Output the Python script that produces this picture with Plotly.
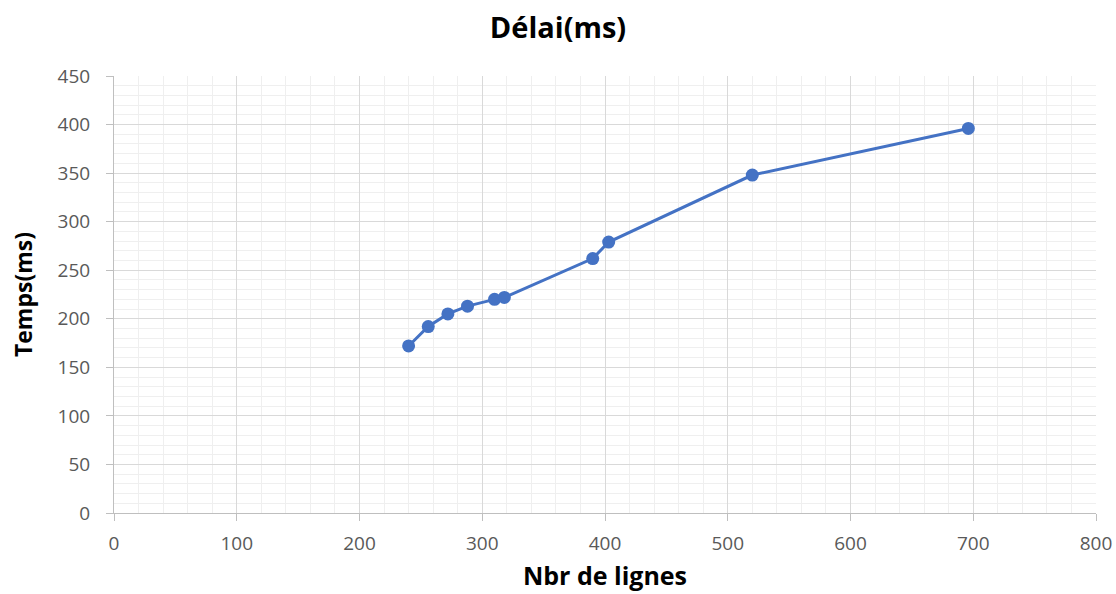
import plotly.graph_objects as go

# Measurements: number of lines vs. delay
nbr_lignes = [240, 256, 272, 288, 310, 318, 390, 403, 520, 696]
temps_ms = [172, 192, 205, 213, 220, 222, 262, 279, 348, 396]

x_ticks = [0, 100, 200, 300, 400, 500, 600, 700, 800]
y_ticks = [0, 50, 100, 150, 200, 250, 300, 350, 400, 450]

blue = "#4472C4"
font_family = "Open Sans, Noto Sans, sans-serif"

fig = go.Figure(
    go.Scatter(
        x=nbr_lignes,
        y=temps_ms,
        mode="lines+markers",
        line=dict(color=blue, width=3),
        marker=dict(color=blue, size=13),
        showlegend=False,
    )
)

axis_common = dict(
    automargin=False,
    showgrid=True,
    gridcolor="#d9d9d9",
    gridwidth=1,
    zeroline=False,
    showline=True,
    linecolor="#bfbfbf",
    linewidth=1,
    ticks="outside",
    ticklen=7,
    tickcolor="#bfbfbf",
    tickfont=dict(family=font_family, size=19, color="#595959"),
)

fig.update_xaxes(
    **axis_common,
    range=[0, 800],
    tickvals=x_ticks,
    ticklabelstandoff=6,
    minor=dict(dtick=20, showgrid=True, gridcolor="#efefef", gridwidth=1, ticks=""),
    title=dict(
        text="<b>Nbr de lignes</b>",
        font=dict(family=font_family, size=25, color="#000000"),
        standoff=12,
    ),
)
fig.update_yaxes(
    **axis_common,
    range=[0, 450],
    tickvals=y_ticks,
    ticklabelstandoff=12,
    minor=dict(dtick=10, showgrid=True, gridcolor="#efefef", gridwidth=1, ticks=""),
    title=dict(
        text="<b>Temps(ms)</b>",
        font=dict(family=font_family, size=23, color="#000000"),
        standoff=18,
    ),
)

fig.update_layout(
    width=1116,
    height=594,
    margin=dict(l=114, r=20, t=76, b=81),
    paper_bgcolor="white",
    plot_bgcolor="white",
    title=dict(
        text="<b>Délai(ms)</b>",
        x=0.5,
        xanchor="center",
        y=0.953,
        yanchor="middle",
        font=dict(family=font_family, size=29, color="#000000"),
    ),
)

fig.write_html("out.html")
